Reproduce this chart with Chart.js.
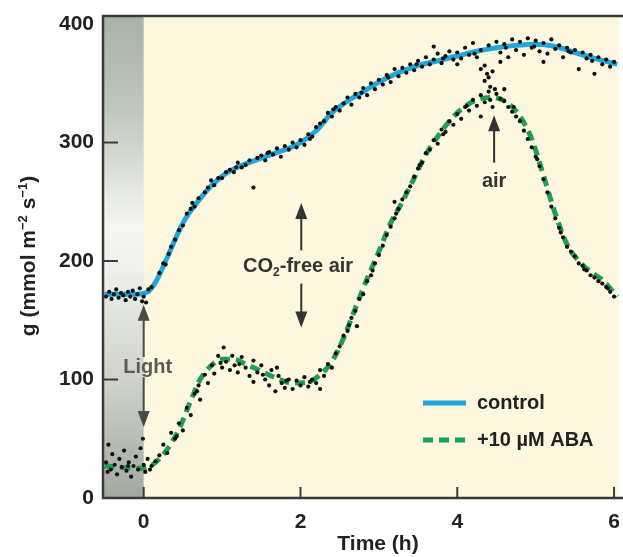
<!DOCTYPE html>
<html>
<head>
<meta charset="utf-8">
<script src="https://cdn.jsdelivr.net/npm/chart.js@4/dist/chart.umd.min.js"></script>
<style>
html,body{margin:0;padding:0;background:#fff;}
canvas{display:block;}
</style>
</head>
<body>
<canvas id="c" width="623" height="557"></canvas>
<script>
// ---- data ----
const xTicks = [0, 2, 4, 6];
const yTicks = [0, 100, 200, 300, 400];

const controlX = [-0.5,-0.3,-0.1,0.05,0.15,0.3,0.5,0.7,0.9,1.1,1.3,1.55,1.8,2.0,2.2,2.4,2.6,2.8,3.0,3.25,3.5,3.75,4.0,4.25,4.5,4.75,5.0,5.25,5.5,5.75,6.04];
const controlY = [172,172,172,174,182,203,232,251,266,276,282,288,294,300,310,325,335,343,351,359,365,369,373,377,380,382,383,381,376,371,366];

const abaX = [-0.5,-0.3,-0.1,0.05,0.15,0.3,0.45,0.6,0.72,0.85,1.0,1.15,1.3,1.5,1.7,1.9,2.1,2.25,2.4,2.55,2.7,2.85,3.0,3.15,3.3,3.45,3.6,3.75,3.9,4.05,4.25,4.45,4.65,4.8,4.95,5.1,5.25,5.4,5.55,5.7,5.85,6.04];
const abaY = [27,26,25,26,30,41,58,82,100,111,117,117,113,107,101,97,98,104,115,135,160,185,208,232,250,270,290,305,318,328,336,338,333,322,303,272,240,214,200,191,184,170];

const controlDots = [[-0.48,170],[-0.44,174],[-0.41,168],[-0.38,172],[-0.35,176],[-0.32,169],[-0.29,173],[-0.26,171],[-0.23,167],[-0.2,174],[-0.17,170],[-0.14,175],[-0.11,168],[-0.08,172],[-0.05,177],[-0.02,166],[0.0,170],[0.03,165],[0.06,176],[0.1,178],
[0.2,190],[0.25,198],[0.28,197],[0.35,212],[0.4,218],[0.45,226],[0.5,230],[0.55,240],[0.6,244],[0.65,246],[0.7,253],[0.78,258],[0.82,262],[0.9,264],[0.95,270],[1.0,270],[1.05,275],[1.1,277],[1.15,275],[1.2,283],[1.25,279],[1.3,281],[1.35,285],[1.4,262],[1.45,287],[1.5,289],[1.55,285],[1.6,292],[1.65,290],[1.7,295],[1.75,288],[1.8,297],[1.85,294],[1.9,300],[1.95,296],[2.0,302],[2.05,298],[2.1,307],[2.15,305],[2.2,313],[2.25,316],[2.3,318],[2.35,325],[2.4,322],[2.45,330],[2.5,327],[2.55,333],[2.6,338],[2.65,332],[2.7,341],[2.75,338],[2.8,346],[2.85,340],[2.9,350],[2.95,345],[3.0,353],[3.05,349],[3.1,357],[3.15,351],[3.2,362],[3.25,356],[3.3,363],[3.35,359],[3.4,366],[3.45,361],[3.5,369],[3.55,364],[3.6,372],[3.65,366],[3.7,370],[3.75,375],[3.8,367],[3.85,373],[3.9,377],[3.95,370],[4.0,376],[4.05,371],[4.1,380],[4.15,374],[4.2,384],[4.25,372],[4.3,378],[4.35,365],[4.4,382],[4.45,360],[4.5,385],[4.55,376],[4.6,383],[4.65,372],[4.7,387],[4.75,378],[4.8,385],[4.85,374],[4.9,388],[4.95,380],[5.0,386],[5.05,377],[5.1,384],[5.15,375],[5.2,387],[5.25,379],[5.3,382],[5.35,372],[5.4,380],[5.45,376],[5.5,378],[5.55,362],[5.6,376],[5.65,371],[5.7,374],[5.75,358],[5.8,372],[5.85,366],[5.9,370],[5.95,364],[6.0,368],
[4.35,352],[4.42,347],[4.38,358],[4.48,345],[4.3,362],[3.7,381],[4.0,366],[5.1,368],
[0.32,206],[0.62,249],[0.86,268],[1.18,279],[1.58,291],[2.12,303],[2.42,328],[2.78,342],[3.12,355],[3.48,366],[3.82,371],[4.22,375],[4.62,380],[4.98,381],[5.42,377],[5.72,369],[4.55,368],[4.4,355]];

const abaDots = [[-0.48,30],[-0.45,45],[-0.42,24],[-0.4,37],[-0.37,28],[-0.34,20],[-0.31,33],[-0.28,26],[-0.25,40],[-0.22,23],[-0.19,30],[-0.16,18],[-0.13,27],[-0.1,35],[-0.07,24],[-0.04,42],[-0.01,50],[0.0,28],[0.02,22],[0.05,33],[0.1,27],[0.15,31],[0.2,36],[0.25,45],[0.3,38],[0.35,55],[0.4,50],[0.45,63],[0.5,57],[0.55,76],[0.6,70],[0.65,88],[0.7,95],[0.72,83],[0.78,104],[0.82,97],[0.87,112],[0.9,105],[0.95,120],[1.0,110],[1.02,127],[1.05,115],[1.1,108],[1.13,120],[1.16,112],[1.2,106],[1.25,119],[1.3,110],[1.35,103],[1.4,116],[1.45,106],[1.5,112],[1.55,100],[1.6,95],[1.63,108],[1.68,90],[1.72,103],[1.76,97],[1.8,93],[1.85,100],[1.9,92],[1.95,99],[2.0,95],[2.05,102],[2.1,94],[2.15,100],[2.2,97],[2.25,108],[2.3,103],[2.35,113],[2.4,110],[2.45,122],[2.5,128],[2.55,137],[2.6,141],[2.65,152],[2.7,158],[2.75,168],[2.8,172],[2.85,183],[2.9,188],[2.95,198],[3.0,205],[3.05,213],[3.1,222],[3.15,229],[3.2,236],[3.25,244],[3.3,252],[3.35,258],[3.4,263],[3.45,271],[3.5,278],[3.55,283],[3.6,291],[3.65,294],[3.7,302],[3.75,299],[3.8,311],[3.85,309],[3.9,318],[3.95,315],[4.0,324],[4.05,320],[4.1,330],[4.15,327],[4.2,336],[4.25,331],[4.3,340],[4.35,334],[4.4,343],[4.45,330],[4.5,341],[4.55,337],[4.6,335],[4.65,330],[4.7,326],[4.75,322],[4.8,318],[4.85,310],[4.9,303],[4.95,296],[5.0,288],[5.05,280],[5.1,269],[5.15,258],[5.2,246],[5.25,236],[5.3,228],[5.35,220],[5.4,212],[5.45,208],[5.5,204],[5.55,198],[5.6,196],[5.65,192],[5.7,188],[5.75,186],[5.8,183],[5.85,181],[5.9,178],[5.95,174],[6.0,170],
[1.4,98],[1.7,110],[2.25,92],[2.72,145],[3.2,250],[4.3,322],[4.6,345],
[-0.46,22],[-0.2,27],[0.08,24],[0.42,52],[0.68,90],[0.98,114],[1.22,113],[1.52,104],[1.82,99],[2.12,98],[2.62,146],[2.92,192],[3.22,240],[3.52,281],[3.82,307],[4.12,331],[4.42,336],[4.72,330],[5.02,286],[5.32,224],[5.62,193],[5.92,177]];

// ---- styling / drawing ----
const FONT = '"Liberation Sans", Arial, sans-serif';
const toPts = (xs, ys) => xs.map((x, i) => ({x: x, y: ys[i]}));
const toDots = arr => arr.map(p => ({x: p[0], y: p[1]}));

function arrow(ctx, x, y1, y2, color) {
  const dir = y2 > y1 ? 1 : -1;
  ctx.strokeStyle = color; ctx.fillStyle = color; ctx.lineWidth = 2;
  ctx.beginPath(); ctx.moveTo(x, y1); ctx.lineTo(x, y2 - dir * 12); ctx.stroke();
  ctx.beginPath(); ctx.moveTo(x, y2); ctx.lineTo(x - 6, y2 - dir * 16); ctx.lineTo(x + 6, y2 - dir * 16); ctx.closePath(); ctx.fill();
}

const decor = {
  id: 'decor',
  beforeDatasetsDraw(chart) {
    const {ctx, chartArea: a, scales: {x, y}} = chart;
    ctx.save();
    ctx.fillStyle = '#fdf7e0';
    ctx.fillRect(a.left, a.top, a.right - a.left, a.bottom - a.top);
    const x0 = x.getPixelForValue(0);
    const g = ctx.createLinearGradient(0, a.top, 0, a.bottom);
    g.addColorStop(0, '#a9b2a7');
    g.addColorStop(0.2, '#c0c7be');
    g.addColorStop(0.44, '#f6f7f3');
    g.addColorStop(0.52, '#eff1ec');
    g.addColorStop(0.75, '#cfd3cb');
    g.addColorStop(1, '#a2a89f');
    ctx.fillStyle = g;
    ctx.fillRect(a.left, a.top, x0 - a.left, a.bottom - a.top);
    ctx.restore();
  },
  afterDatasetsDraw(chart) {
    const {ctx, chartArea: a, scales: {x, y}} = chart;
    ctx.save();
    // frame
    ctx.strokeStyle = '#3a3a3a'; ctx.lineWidth = 2.5;
    ctx.beginPath();
    ctx.moveTo(chart.width + 2, a.top); ctx.lineTo(a.left, a.top); ctx.lineTo(a.left, a.bottom); ctx.lineTo(chart.width + 2, a.bottom);
    ctx.stroke();
    // inward ticks
    ctx.lineWidth = 2;
    yTicks.forEach(v => { const py = y.getPixelForValue(v); if (v > 0 && v < 400) { ctx.beginPath(); ctx.moveTo(a.left, py); ctx.lineTo(a.left + 15, py); ctx.stroke(); } });
    xTicks.forEach(v => { const px = x.getPixelForValue(v); ctx.beginPath(); ctx.moveTo(px, a.bottom); ctx.lineTo(px, a.bottom - 11); ctx.stroke(); });

    // annotations
    const X = v => x.getPixelForValue(v), Y = v => y.getPixelForValue(v);
    ctx.textAlign = 'center'; ctx.textBaseline = 'middle';
    // Light
    arrow(ctx, X(0), Y(119), Y(163), '#4a4a4a');
    arrow(ctx, X(0), Y(102), Y(60), '#4a4a4a');
    ctx.fillStyle = '#5a5a5a'; ctx.font = 'bold 20px ' + FONT;
    ctx.fillText('Light', X(0.05), Y(110.5));
    // CO2-free air
    arrow(ctx, X(2.01), Y(209), Y(249), '#333');
    arrow(ctx, X(2.01), Y(181), Y(144), '#333');
    ctx.fillStyle = '#333';
    {
      const cy = Y(195);
      ctx.font = 'bold 20px ' + FONT; const w1 = ctx.measureText('CO').width;
      ctx.font = 'bold 12px ' + FONT; const w2 = ctx.measureText('2').width;
      ctx.font = 'bold 20px ' + FONT; const w3 = ctx.measureText('-free air').width;
      let sx = X(1.97) - (w1 + w2 + w3) / 2;
      ctx.textAlign = 'left';
      ctx.fillText('CO', sx, cy); sx += w1;
      ctx.font = 'bold 12px ' + FONT; ctx.fillText('2', sx, cy + 6); sx += w2;
      ctx.font = 'bold 20px ' + FONT; ctx.fillText('-free air', sx, cy);
    }
    // air
    arrow(ctx, X(4.47), Y(283), Y(323), '#333');
    ctx.textAlign = 'center'; ctx.font = 'bold 20px ' + FONT;
    ctx.fillText('air', X(4.47), Y(267));

    // legend
    const ds = chart.data.datasets;
    const entries = [[ds[0], 403], [ds[1], 440]];
    entries.forEach(([d, py]) => {
      ctx.strokeStyle = d.borderColor; ctx.lineWidth = 5;
      ctx.setLineDash(d.borderDash || []);
      ctx.beginPath(); ctx.moveTo(423, py); ctx.lineTo(466, py); ctx.stroke();
      ctx.setLineDash([]);
      ctx.fillStyle = '#222'; ctx.textAlign = 'left'; ctx.font = 'bold 20px ' + FONT;
      ctx.fillText(d.label, 477, py);
    });

    // y axis title
    ctx.save();
    ctx.translate(28, 256); ctx.rotate(-Math.PI / 2);
    const parts = [['g (mmol m', 21, 0], ['\u22122', 13, -8], [' s', 21, 0], ['\u22121', 13, -8], [')', 21, 0]];
    let tw = 0;
    parts.forEach(p => { ctx.font = 'bold ' + p[1] + 'px ' + FONT; p.push(ctx.measureText(p[0]).width); tw += p[3]; });
    let sx = -tw / 2;
    ctx.fillStyle = '#222'; ctx.textAlign = 'left'; ctx.textBaseline = 'alphabetic';
    parts.forEach(p => { ctx.font = 'bold ' + p[1] + 'px ' + FONT; ctx.fillText(p[0], sx, 7 + p[2]); sx += p[3]; });
    ctx.restore();

    // x axis title
    ctx.fillStyle = '#222'; ctx.textAlign = 'center'; ctx.textBaseline = 'middle';
    ctx.font = 'bold 21px ' + FONT;
    ctx.fillText('Time (h)', 378, 544);
    ctx.restore();
  }
};

new Chart(document.getElementById('c'), {
  type: 'line',
  data: {
    datasets: [
      {label: 'control', data: toPts(controlX, controlY), borderColor: '#1ea8dc', borderWidth: 5, pointRadius: 0, cubicInterpolationMode: 'monotone', order: 3},
      {label: '+10 \u00b5M ABA', data: toPts(abaX, abaY), borderColor: '#1f9e55', borderWidth: 5, borderDash: [10, 6], pointRadius: 0, cubicInterpolationMode: 'monotone', order: 3},
      {label: 'control points', data: toDots(controlDots), showLine: false, pointRadius: 2.1, pointBackgroundColor: '#111', pointBorderWidth: 0, order: 1},
      {label: 'ABA points', data: toDots(abaDots), showLine: false, pointRadius: 2.1, pointBackgroundColor: '#111', pointBorderWidth: 0, order: 1}
    ]
  },
  options: {
    responsive: false,
    animation: false,
    devicePixelRatio: 1,
    layout: {padding: {top: 16, left: 0, right: 0, bottom: 0}},
    plugins: {legend: {display: false}, tooltip: {enabled: false}},
    scales: {
      x: {
        type: 'linear', min: -0.519, max: 6.063,
        grid: {display: false, drawTicks: false},
        border: {display: false},
        afterBuildTicks: s => { s.ticks = xTicks.map(v => ({value: v})); },
        afterFit: s => { s.height = 59; s.paddingLeft = 0; s.paddingRight = 0; },
        ticks: {padding: 12, color: '#222', font: {family: FONT, size: 21, weight: 'bold'}, maxRotation: 0, autoSkip: false}
      },
      y: {
        type: 'linear', min: 0, max: 406.8,
        grid: {display: false, drawTicks: false},
        border: {display: false},
        afterBuildTicks: s => { s.ticks = yTicks.map(v => ({value: v})); },
        afterFit: s => { s.width = 103; s.paddingTop = 0; s.paddingBottom = 0; },
        ticks: {padding: 9, color: '#222', font: {family: FONT, size: 21, weight: 'bold'}}
      }
    }
  },
  plugins: [decor]
});
</script>
</body>
</html>
